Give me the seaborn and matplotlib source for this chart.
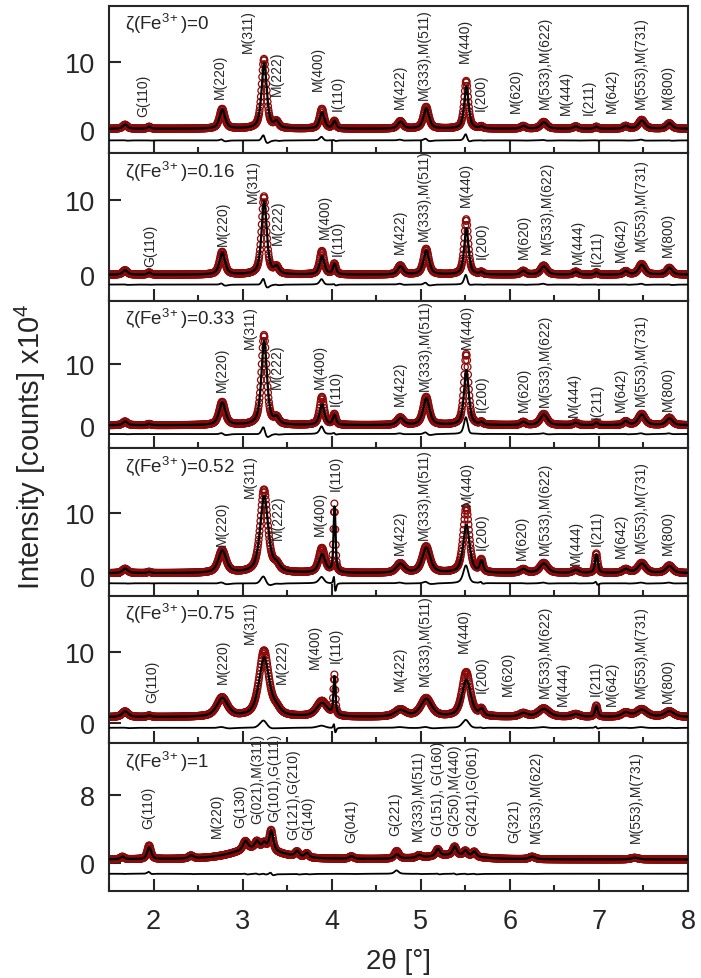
import numpy as np
import pandas as pd
import seaborn as sns
import matplotlib.pyplot as plt
from matplotlib.ticker import MultipleLocator

sns.set_style('ticks')
plt.rcParams['font.family'] = ['Liberation Sans', 'DejaVu Sans']
plt.rcParams['mathtext.fontset'] = 'custom'
plt.rcParams['mathtext.rm'] = 'Liberation Sans'
plt.rcParams['mathtext.default'] = 'regular'

# Fe3+ fraction of each pattern (top to bottom)
zeta = ['0', '0.16', '0.33', '0.52', '0.75', '1']

# peak positions (2theta, deg) of the magnetite-type patterns
m_pos = [1.68, 1.95, 2.77, 3.24, 3.38, 3.89, 4.03, 4.77, 5.06, 5.51,
         5.68, 6.15, 6.38, 6.74, 6.97, 7.30, 7.48, 7.79]

# observed / calculated peak heights (x10^4 counts) and widths
p0_obs = [0.6, 0.3, 2.9, 10.2, 0.9, 2.9, 1.1, 1.1, 3.2, 7.0, 0.3, 0.4, 1.0, 0.35, 0.3, 0.4, 1.3, 0.8]
p0_calc = [0.6, 0.3, 2.8, 9.6, 0.9, 2.4, 1.1, 1.0, 3.0, 6.2, 0.3, 0.4, 0.95, 0.35, 0.3, 0.4, 1.2, 0.8]
p0_fwhm = [0.06, 0.04, 0.07, 0.065, 0.06, 0.06, 0.04, 0.07, 0.07, 0.055, 0.04, 0.06, 0.08, 0.06, 0.04, 0.06, 0.08, 0.07]

p16_obs = [0.6, 0.3, 3.0, 10.3, 0.9, 3.1, 1.4, 1.2, 3.4, 7.3, 0.3, 0.5, 1.2, 0.4, 0.3, 0.45, 1.4, 0.9]
p16_calc = [0.6, 0.3, 2.9, 9.7, 0.9, 2.4, 1.4, 1.1, 3.2, 6.1, 0.3, 0.5, 1.1, 0.4, 0.3, 0.45, 1.3, 0.9]
p16_fwhm = [0.06, 0.04, 0.07, 0.065, 0.06, 0.06, 0.04, 0.07, 0.07, 0.055, 0.04, 0.06, 0.08, 0.06, 0.04, 0.06, 0.08, 0.07]

p33_obs = [0.6, 0.2, 3.7, 14.4, 1.0, 4.5, 1.7, 1.2, 4.5, 11.4, 0.4, 0.5, 1.8, 0.4, 0.4, 0.6, 1.8, 1.2]
p33_calc = [0.6, 0.2, 3.6, 13.5, 1.0, 3.3, 1.6, 1.1, 4.3, 8.8, 0.4, 0.5, 1.7, 0.4, 0.4, 0.6, 1.7, 1.1]
p33_fwhm = [0.06, 0.04, 0.08, 0.07, 0.06, 0.06, 0.04, 0.08, 0.08, 0.06, 0.04, 0.06, 0.09, 0.06, 0.04, 0.06, 0.09, 0.08]

p52_obs = [0.7, 0.2, 3.6, 13.2, 1.0, 3.9, 10.8, 1.5, 4.2, 10.4, 1.9, 0.6, 1.6, 0.5, 3.1, 0.6, 1.6, 1.2]
p52_calc = [0.7, 0.2, 3.5, 12.2, 1.0, 2.9, 10.6, 1.4, 4.0, 7.6, 1.8, 0.6, 1.5, 0.5, 3.0, 0.6, 1.5, 1.1]
p52_fwhm = [0.07, 0.04, 0.1, 0.1, 0.08, 0.08, 0.025, 0.1, 0.1, 0.08, 0.04, 0.08, 0.1, 0.08, 0.035, 0.08, 0.1, 0.09]

p75_obs = [0.8, 0.2, 2.7, 9.3, 0.8, 2.2, 5.6, 1.0, 2.6, 6.3, 0.9, 0.5, 1.2, 0.4, 1.6, 0.6, 1.1, 0.8]
p75_calc = [0.8, 0.2, 2.6, 8.3, 0.8, 1.9, 5.5, 0.9, 2.5, 5.2, 0.9, 0.5, 1.1, 0.4, 1.5, 0.6, 1.0, 0.8]
p75_fwhm = [0.08, 0.05, 0.14, 0.13, 0.1, 0.14, 0.025, 0.14, 0.14, 0.11, 0.05, 0.1, 0.14, 0.1, 0.035, 0.1, 0.14, 0.12]

# goethite-type pattern (zeta = 1), last two are broad humps
g_pos = [1.65, 1.95, 2.42, 3.03, 3.16, 3.24, 3.32, 3.61, 3.72, 4.22,
         4.73, 4.98, 5.19, 5.38, 5.50, 5.60, 6.25, 7.40, 3.15, 5.35]
g_obs = [0.3, 1.6, 0.35, 1.0, 0.8, 0.7, 2.4, 0.6, 0.5, 0.3,
         0.9, 0.3, 0.8, 1.0, 0.6, 0.6, 0.3, 0.2, 1.3, 0.5]
g_calc = [0.3, 1.4, 0.35, 1.0, 0.8, 0.7, 2.3, 0.6, 0.5, 0.3,
          0.5, 0.3, 0.8, 1.0, 0.6, 0.6, 0.3, 0.2, 1.3, 0.5]
g_fwhm = [0.05, 0.05, 0.06, 0.06, 0.05, 0.05, 0.05, 0.05, 0.05, 0.06,
          0.06, 0.06, 0.05, 0.05, 0.05, 0.05, 0.08, 0.1, 0.6, 0.6]

# background level and offset of difference curve per panel
bg_level = [0.2, 0.1, 0.2, 0.4, 0.8, 0.45]
diff_offset = [-1.5, -1.2, -1.2, -1.2, -0.7, -1.2]

# reflection labels
m_labels = ['G(110)', 'M(220)', 'M(311)', 'M(222)', 'M(400)', 'I(110)', 'M(422)',
            'M(333),M(511)', 'M(440)', 'I(200)', 'M(620)', 'M(533),M(622)',
            'M(444)', 'I(211)', 'M(642)', 'M(553),M(731)', 'M(800)']
g_labels = ['G(110)', 'M(220)', 'G(130)', 'G(021),M(311)', 'G(101),G(111)',
            'G(121),G(210)', 'G(140)', 'G(041)', 'G(221)', 'M(333),M(511)',
            'G(151), G(160)', 'G(250),M(440)', 'G(241),G(061)', 'G(321)',
            'M(533),M(622)', 'M(553),M(731)']

lab0_x = [1.885, 2.75, 3.06, 3.38, 3.85, 4.07, 4.76, 5.03, 5.49, 5.67, 6.07, 6.39, 6.63, 6.88, 7.15, 7.47, 7.77]
lab0_y = [2.0, 4.7, 11.5, 5.1, 5.85, 2.9, 3.2, 4.6, 10.0, 2.9, 2.7, 3.2, 2.4, 2.4, 2.7, 3.2, 3.2]
lab16_x = [1.96, 2.78, 3.12, 3.40, 3.92, 4.07, 4.76, 5.04, 5.51, 5.68, 6.16, 6.41, 6.76, 6.98, 7.25, 7.47, 7.77]
lab16_y = [1.2, 4.0, 9.7, 4.2, 4.9, 2.7, 2.9, 4.65, 9.2, 2.3, 2.3, 2.9, 1.6, 1.4, 1.85, 3.3, 2.5]
lab33_x = [2.77, 3.08, 3.38, 3.87, 4.05, 4.76, 5.05, 5.52, 5.68, 6.16, 6.39, 6.72, 6.97, 7.25, 7.47, 7.77]
lab33_y = [5.6, 12.6, 6.1, 6.1, 3.5, 3.5, 5.9, 12.6, 2.4, 2.4, 3.2, 1.6, 1.3, 2.4, 3.5, 2.7]
lab52_x = [2.77, 3.08, 3.40, 3.87, 4.05, 4.76, 5.04, 5.52, 5.68, 6.14, 6.39, 6.74, 6.97, 7.25, 7.47, 7.77]
lab52_y = [4.8, 12.5, 5.9, 6.4, 13.6, 3.5, 5.9, 11.2, 4.3, 2.7, 3.5, 1.9, 4.8, 2.9, 3.7, 3.5]
lab75_x = [1.98, 2.78, 3.08, 3.44, 3.81, 4.05, 4.76, 5.05, 5.48, 5.68, 5.98, 6.39, 6.59, 6.96, 7.15, 7.47, 7.77]
lab75_y = [3.0, 5.6, 11.2, 5.6, 7.7, 8.6, 4.6, 5.3, 10.0, 4.4, 3.95, 3.7, 2.55, 3.95, 2.55, 3.7, 3.0]
lab1_x = [1.94, 2.71, 2.97, 3.16, 3.36, 3.57, 3.74, 4.22, 4.71, 4.97, 5.19, 5.38, 5.58, 6.05, 6.29, 7.41]
lab1_y = [4.1, 3.1, 4.3, 4.7, 4.9, 2.9, 2.9, 2.55, 3.3, 2.75, 3.3, 3.3, 3.3, 2.55, 2.55, 2.55]

y_limits = [(-3.4, 18.2), (-3.35, 16.1), (-3.5, 20.1), (-3.2, 20.2), (-2.9, 17.9), (-3.2, 14.0)]
y_ticks = [[0, 10], [0, 10], [0, 10], [0, 10], [0, 10], [0, 8]]

panels = [
    (m_pos, p0_obs, p0_calc, p0_fwhm, m_labels, lab0_x, lab0_y),
    (m_pos, p16_obs, p16_calc, p16_fwhm, m_labels, lab16_x, lab16_y),
    (m_pos, p33_obs, p33_calc, p33_fwhm, m_labels[1:], lab33_x, lab33_y),
    (m_pos, p52_obs, p52_calc, p52_fwhm, m_labels[1:], lab52_x, lab52_y),
    (m_pos, p75_obs, p75_calc, p75_fwhm, m_labels, lab75_x, lab75_y),
    (g_pos, g_obs, g_calc, g_fwhm, g_labels, lab1_x, lab1_y),
]


def pattern(x, pos, height, fwhm, bg, shift=0.0):
    # pseudo-Voigt peaks on a flat background
    y = np.full_like(x, bg)
    for p, h, w in zip(pos, height, fwhm):
        d = (x - p - shift) / (w / 2)
        y += h * (0.65 / (1 + d ** 2) + 0.35 * np.exp(-np.log(2) * d ** 2))
    return y


two_theta = np.arange(1.5, 8.0001, 0.005)
red = '#8b0a0a'

fig, axes = plt.subplots(6, 1, figsize=(7.01, 9.79), dpi=100, sharex=True)
fig.subplots_adjust(left=0.1555, right=0.9815, top=0.993, bottom=0.089, hspace=0)

for i, ax in enumerate(axes):
    pos, h_obs, h_calc, fwhm, labels, lx, ly = panels[i]
    obs = pattern(two_theta, pos, h_obs, fwhm, bg_level[i])
    calc = pattern(two_theta, pos, h_calc, [w * 1.06 for w in fwhm], bg_level[i], shift=0.002)
    df = pd.DataFrame({'two_theta': two_theta, 'obs': obs, 'calc': calc,
                       'diff': obs - calc + diff_offset[i]})

    sns.scatterplot(data=df, x='two_theta', y='obs', ax=ax, marker='o', s=24,
                    facecolor='none', edgecolor=red, linewidth=0.9, legend=False, zorder=2)
    sns.lineplot(data=df, x='two_theta', y='calc', ax=ax, color='black', lw=1.6,
                 estimator=None, sort=False, zorder=3)
    sns.lineplot(data=df, x='two_theta', y='diff', ax=ax, color='black', lw=1.3,
                 estimator=None, sort=False, zorder=3)

    for t, x, y in zip(labels, lx, ly):
        ax.text(x, y, t, rotation=90, ha='center', va='bottom', fontsize=10)

    ax.text(0.027, 0.965, 'ζ(Fe$^{3\\!+}$)=' + zeta[i], transform=ax.transAxes,
            ha='left', va='top', fontsize=13.5)

    ax.set_xlim(1.5, 8)
    ax.set_ylim(*y_limits[i])
    ax.set_yticks(y_ticks[i])
    ax.xaxis.set_major_locator(MultipleLocator(1))
    ax.xaxis.set_minor_locator(MultipleLocator(0.5))
    ax.tick_params(axis='both', which='major', direction='in', length=8.5, width=1.5,
                   labelsize=19.5)
    ax.tick_params(axis='y', pad=10)
    ax.tick_params(axis='x', which='minor', direction='in', length=4.5, width=1.5)
    ax.tick_params(axis='x', pad=12)
    ax.set_xlabel('')
    ax.set_ylabel('')
    for s in ax.spines.values():
        s.set_linewidth(1.5)

fig.text(0.043, 0.544, r'Intensity [counts] x10$^4$', rotation=90,
         ha='center', va='center', fontsize=21)
fig.text(0.569, 1 - 962 / 979, '2θ [°]', ha='center', va='center', fontsize=20)

fig.savefig('out.png', dpi=100)
